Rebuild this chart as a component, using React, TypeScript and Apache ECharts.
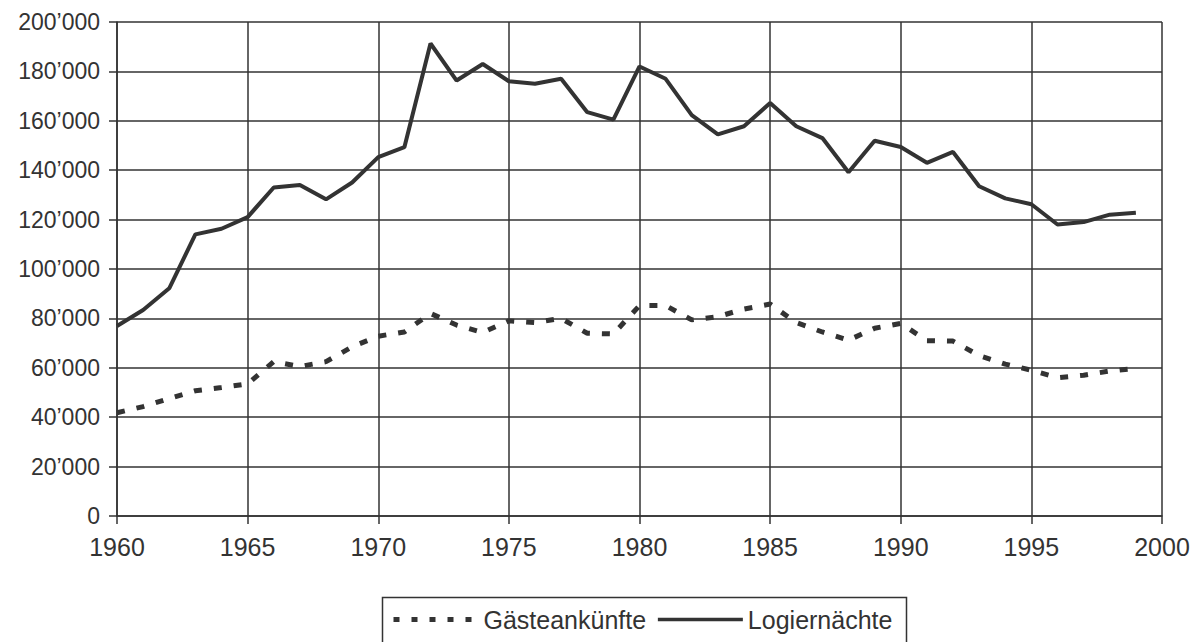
import React, { useEffect, useRef } from "react";
import * as echarts from "echarts";

const years = [
  1960, 1961, 1962, 1963, 1964, 1965, 1966, 1967, 1968, 1969,
  1970, 1971, 1972, 1973, 1974, 1975, 1976, 1977, 1978, 1979,
  1980, 1981, 1982, 1983, 1984, 1985, 1986, 1987, 1988, 1989,
  1990, 1991, 1992, 1993, 1994, 1995, 1996, 1997, 1998, 1999,
];

const gaesteankuenfte = [
  41800, 44300, 47600, 50700, 52000, 53500, 62500, 60500, 62500, 68500,
  72800, 74500, 82000, 77300, 74300, 79000, 78300, 80000, 74000, 73700,
  85200, 85200, 79400, 80700, 83800, 85800, 78300, 74500, 71200, 76000,
  78000, 71000, 70800, 65000, 61500, 59000, 56000, 57000, 58700, 59800,
];

const logiernaechte = [
  76900, 83400, 92200, 114000, 116300, 121000, 133000, 134000, 128200, 135000,
  145300, 149300, 191300, 176300, 183000, 176000, 175000, 177000, 163500, 160500,
  182000, 177000, 162300, 154500, 157800, 167200, 157800, 153000, 139200, 151900,
  149400, 143000, 147400, 133500, 128600, 126200, 118000, 119000, 122000, 122800,
];

const seriesNames = ["Gästeankünfte", "Logiernächte"];

const FONT = "'Liberation Sans', Arial, Helvetica, sans-serif";
const INK = "#333333";

function fmtY(v: number): string {
  return String(v).replace(/\B(?=(\d{3})+(?!\d))/g, "\u2019");
}

export default function App() {
  const ref = useRef<HTMLDivElement>(null);

  useEffect(() => {
    if (!ref.current) return;
    const chart = echarts.init(ref.current, undefined, { renderer: "svg" });
    const option = {
      animation: false,
      backgroundColor: "#ffffff",
      grid: { left: 117, right: 38, top: 22, bottom: 126, containLabel: false },
      xAxis: {
        type: "value",
        min: 1960,
        max: 2000,
        interval: 5,
        axisLine: { show: true, lineStyle: { color: INK, width: 1.5 } },
        axisTick: { show: true, length: 8, lineStyle: { color: INK, width: 1.5 } },
        axisLabel: {
          margin: 18,
          color: INK,
          fontFamily: FONT,
          fontSize: 25,
          formatter: (v: number) => String(v),
        },
        splitLine: { show: true, lineStyle: { color: INK, width: 1.5 } },
      },
      yAxis: {
        type: "value",
        min: 0,
        max: 200000,
        interval: 20000,
        axisLine: { show: true, lineStyle: { color: INK, width: 1.5 } },
        axisTick: { show: true, length: 8, lineStyle: { color: INK, width: 1.5 } },
        axisLabel: {
          margin: 17,
          color: INK,
          fontFamily: FONT,
          fontSize: 23,
          formatter: (v: number) => fmtY(v),
        },
        splitLine: { show: true, lineStyle: { color: INK, width: 1.5 } },
      },
      legend: {
        left: 386,
        top: 602,
        itemWidth: 85,
        itemHeight: 6,
        itemGap: 10,
        itemStyle: { opacity: 0 },
        data: [
          {
            name: seriesNames[0],
            itemStyle: { opacity: 0 },
            lineStyle: { color: INK, width: 5, type: [6, 12] },
          },
          {
            name: seriesNames[1],
            itemStyle: { opacity: 0 },
            lineStyle: { color: INK, width: 3.5, type: "solid" },
          },
        ],
        textStyle: { color: INK, fontFamily: FONT, fontSize: 25 },
      },
      graphic: [
        {
          type: "rect",
          left: 380,
          top: 595,
          shape: { width: 524, height: 60 },
          style: { fill: "none", stroke: INK, lineWidth: 1.5 },
          silent: true,
        },
      ],
      series: [
        {
          name: seriesNames[0],
          type: "line",
          data: years.map((y, i) => [y, gaesteankuenfte[i]]),
          showSymbol: false,
          symbol: "none",
          lineStyle: { color: INK, width: 5, type: [8, 12] },
          itemStyle: { color: INK },
        },
        {
          name: seriesNames[1],
          type: "line",
          data: years.map((y, i) => [y, logiernaechte[i]]),
          showSymbol: false,
          symbol: "none",
          lineStyle: { color: INK, width: 4, type: "solid" },
          itemStyle: { color: INK },
        },
      ],
    };
    chart.setOption(option as any);
    return () => chart.dispose();
  }, []);

  return (
    <div
      ref={ref}
      style={{ width: 1200, height: 642, position: "absolute", left: 0, top: 0, background: "#fff" }}
    />
  );
}
